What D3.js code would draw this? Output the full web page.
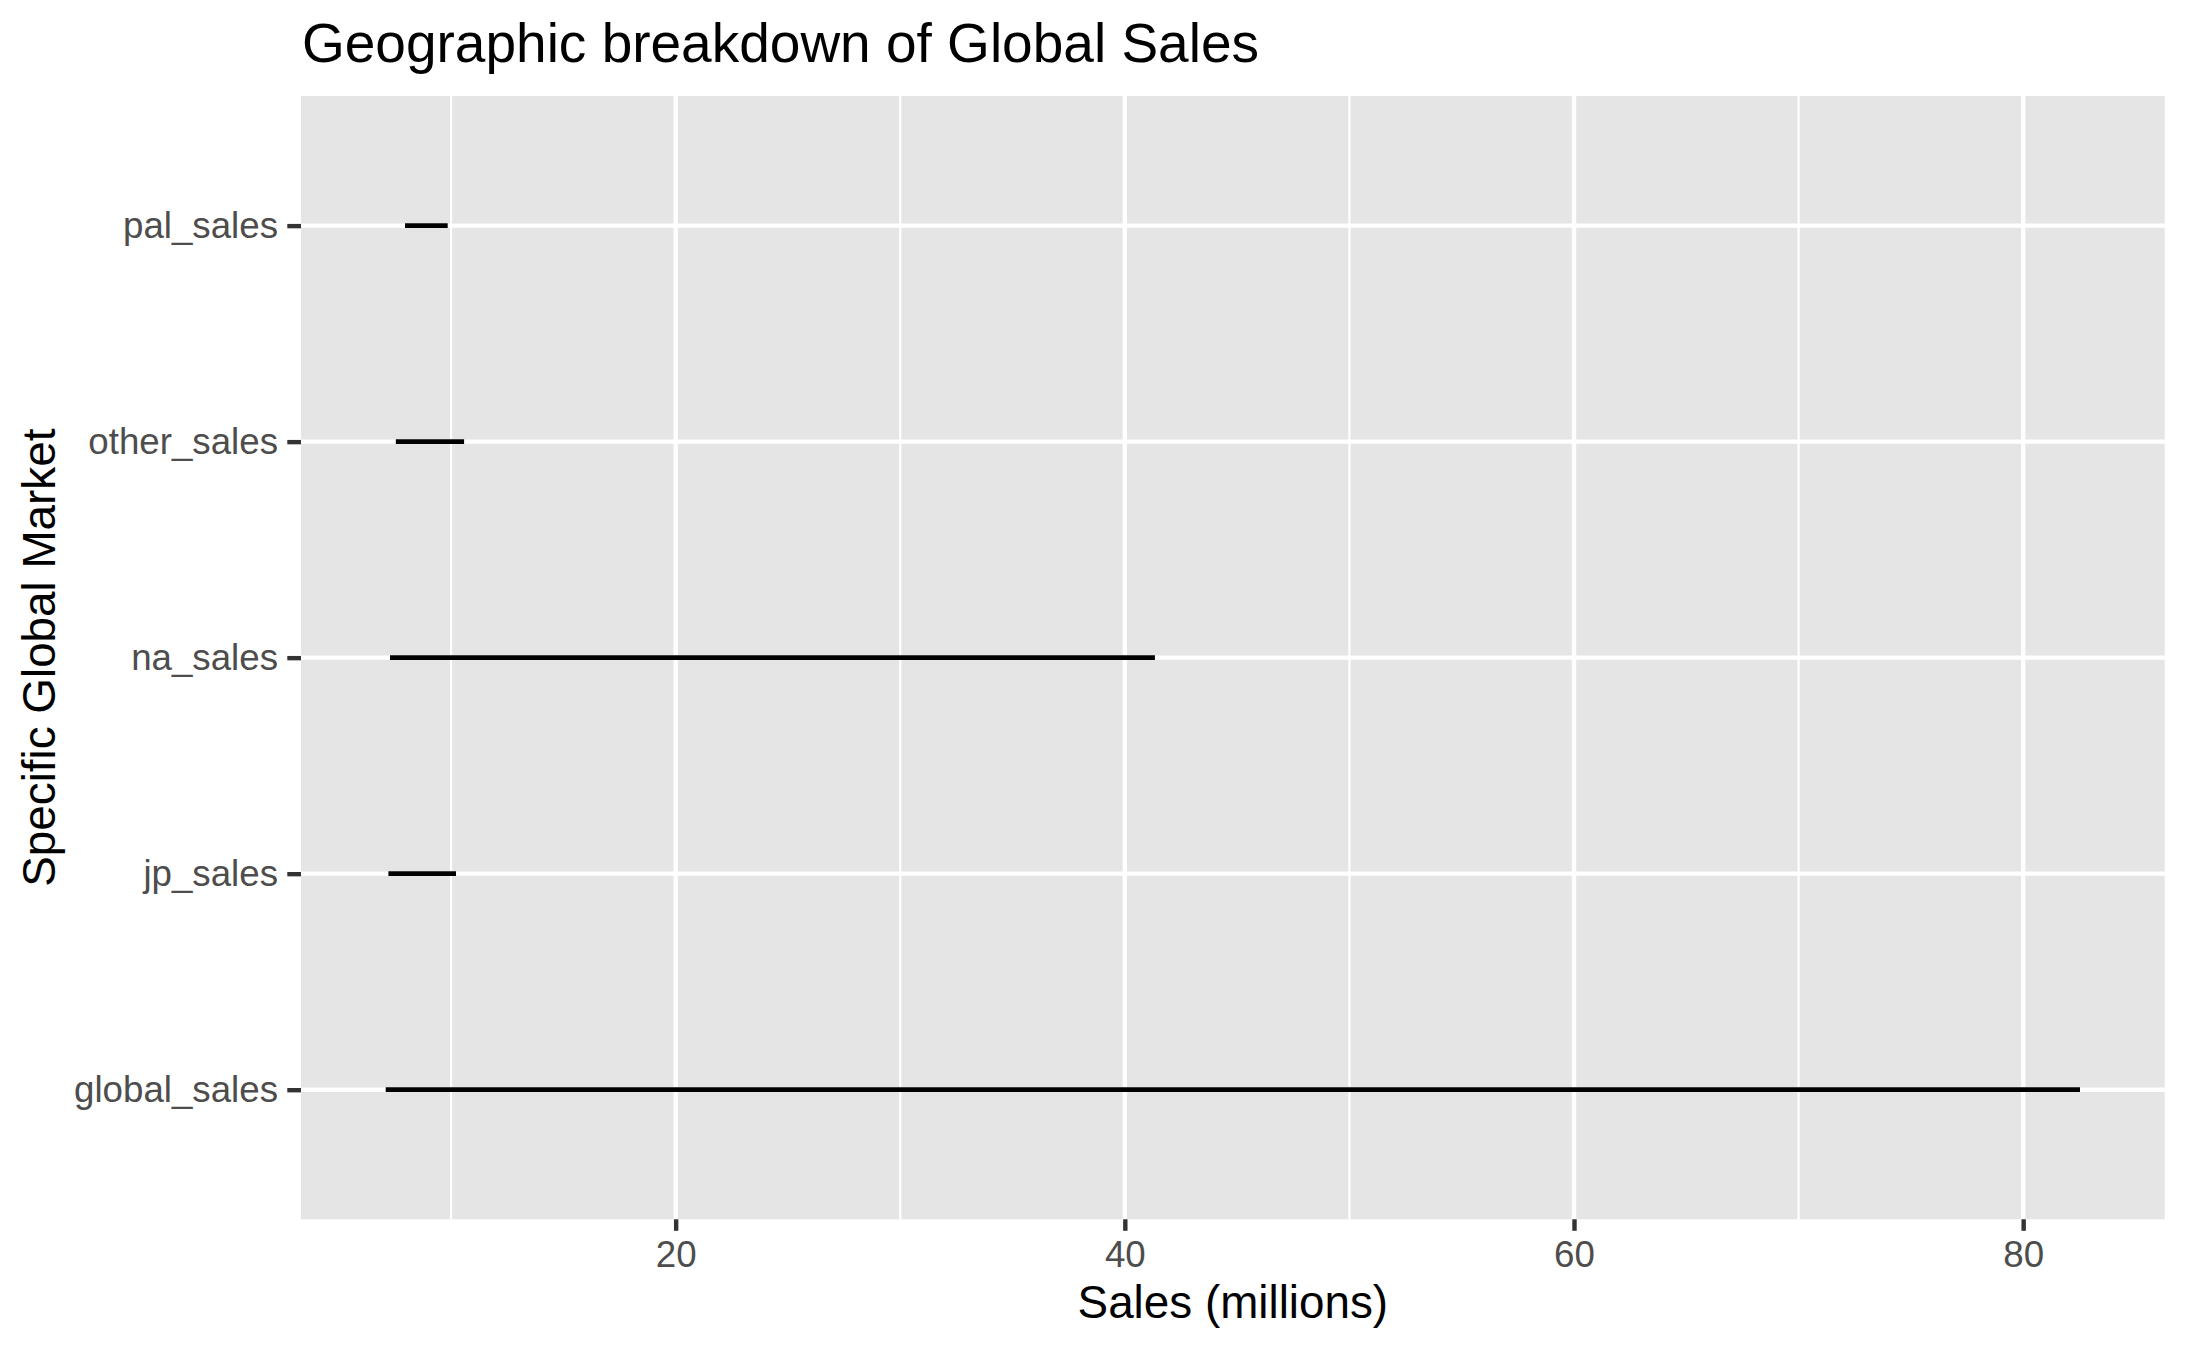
<!DOCTYPE html>
<html>
<head>
<meta charset="utf-8">
<script src="https://cdn.jsdelivr.net/npm/d3@7"></script>
<style>
  body { margin: 0; background: #fff; }
  svg { display: block; font-family: "Liberation Sans", Arial, Helvetica, sans-serif; }
</style>
</head>
<body>
<svg id="chart"></svg>
<script>
// one horizontal line per market, from the lowest to the highest sales value
const markets = ["global_sales", "jp_sales", "na_sales", "other_sales", "pal_sales"]
const lowSales = [7.09, 7.21, 7.28, 7.54, 7.95]
const highSales = [82.53, 10.22, 41.34, 10.58, 9.85]

const majorTicks = [20, 40, 60, 80]
const minorTicks = [10, 30, 50, 70]

const titleText = "Geographic breakdown of Global Sales"
const xTitle = "Sales (millions)"
const yTitle = "Specific Global Market"

const width = 2187
const height = 1351
const panel = {left: 301, right: 2164.7, top: 96, bottom: 1219.3}
const panelFill = "#E5E5E5"
const tickColor = "#333333"
const labelColor = "#4D4D4D"

const rows = markets.map((m, i) => ({market: m, pos: i + 1, low: lowSales[i], high: highSales[i]}))

// ggplot style expansion: 5% on the continuous axis, 0.6 units on the discrete one
const dataMin = d3.min(lowSales)
const dataMax = d3.max(highSales)
const pad = (dataMax - dataMin) * 0.05

const x = d3.scaleLinear()
  .domain([dataMin - pad, dataMax + pad])
  .range([panel.left, panel.right])

const y = d3.scaleLinear()
  .domain([0.4, markets.length + 0.6])
  .range([panel.bottom, panel.top])

const svg = d3.select("#chart")
  .attr("width", width)
  .attr("height", height)

svg.append("rect")
  .attr("x", panel.left)
  .attr("y", panel.top)
  .attr("width", panel.right - panel.left)
  .attr("height", panel.bottom - panel.top)
  .attr("fill", panelFill)

// grid
svg.append("g").selectAll("line")
  .data(minorTicks)
  .join("line")
  .attr("x1", d => x(d)).attr("x2", d => x(d))
  .attr("y1", panel.top).attr("y2", panel.bottom)
  .attr("stroke", "#fff")
  .attr("stroke-width", 2.2)

svg.append("g").selectAll("line")
  .data(majorTicks)
  .join("line")
  .attr("x1", d => x(d)).attr("x2", d => x(d))
  .attr("y1", panel.top).attr("y2", panel.bottom)
  .attr("stroke", "#fff")
  .attr("stroke-width", 4.4)

svg.append("g").selectAll("line")
  .data(rows)
  .join("line")
  .attr("x1", panel.left).attr("x2", panel.right)
  .attr("y1", d => y(d.pos)).attr("y2", d => y(d.pos))
  .attr("stroke", "#fff")
  .attr("stroke-width", 4.4)

// the ranges
svg.append("g").selectAll("line")
  .data(rows)
  .join("line")
  .attr("x1", d => x(d.low))
  .attr("x2", d => x(d.high))
  .attr("y1", d => y(d.pos))
  .attr("y2", d => y(d.pos))
  .attr("stroke", "#000")
  .attr("stroke-width", 4.7)

// axes
const xAxis = svg.append("g")
  .attr("transform", `translate(0,${panel.bottom})`)
  .call(d3.axisBottom(x).tickValues(majorTicks).tickSize(11.5).tickPadding(10.5).tickFormat(d3.format("d")))

const yAxis = svg.append("g")
  .attr("transform", `translate(${panel.left},0)`)
  .call(d3.axisLeft(y).tickValues(rows.map(d => d.pos)).tickSize(13.7).tickPadding(9.3)
    .tickFormat(p => markets[p - 1]))

for (const ax of [xAxis, yAxis]) {
  ax.select(".domain").remove()
  ax.selectAll(".tick line").attr("stroke", tickColor).attr("stroke-width", 4.4)
  ax.selectAll(".tick text")
    .attr("fill", labelColor)
    .style("font-size", "36.7px")
    .style("font-family", "'Liberation Sans', Arial, Helvetica, sans-serif")
}

// titles
svg.append("text")
  .attr("x", panel.left + 1)
  .attr("y", 61.7)
  .attr("fill", "#000")
  .style("font-size", "55px")
  .text(titleText)

svg.append("text")
  .attr("x", (panel.left + panel.right) / 2)
  .attr("y", 1318.3)
  .attr("text-anchor", "middle")
  .attr("fill", "#000")
  .style("font-size", "45.8px")
  .text(xTitle)

svg.append("text")
  .attr("transform", `translate(55,${(panel.top + panel.bottom) / 2}) rotate(-90)`)
  .attr("text-anchor", "middle")
  .attr("fill", "#000")
  .style("font-size", "45.8px")
  .text(yTitle)
</script>
</body>
</html>
